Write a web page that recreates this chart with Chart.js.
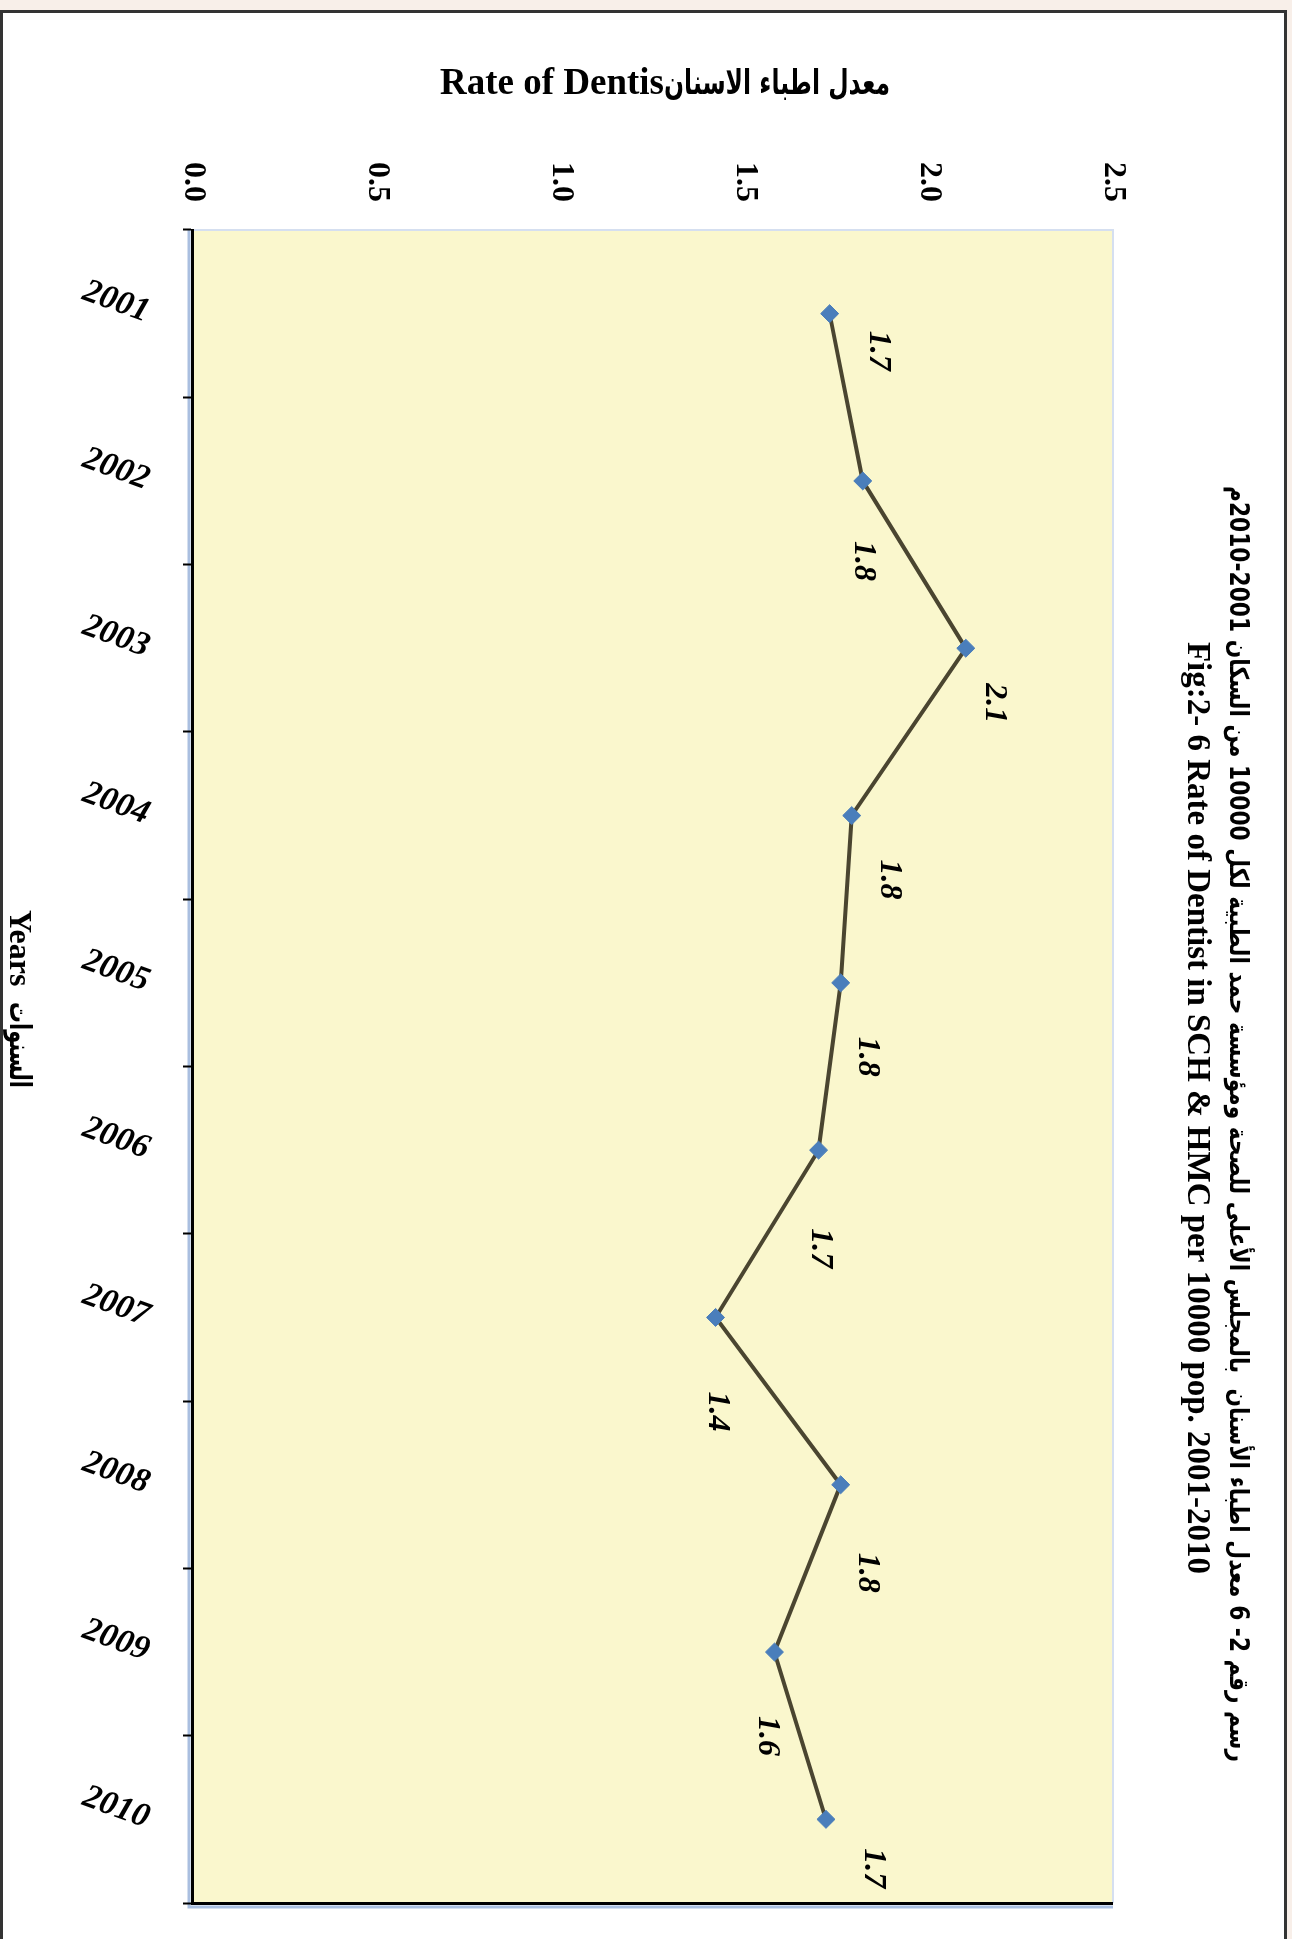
<!DOCTYPE html>
<html lang="en">
<head>
<meta charset="utf-8">
<title>Rate of Dentist in SCH &amp; HMC per 10000 pop. 2001-2010</title>
<script src="https://cdn.jsdelivr.net/npm/chart.js@4.4.1/dist/chart.umd.min.js"></script>
<style>
  html, body { margin: 0; padding: 0; background: #f8efe9; overflow: hidden; }
  #page { position: relative; width: 1292px; height: 1939px; }
  #frame { position: absolute; left: 0; top: 10px; width: 1281px; height: 1940px; background: #fff; border: 3px solid #333; border-bottom: none; }
  /* the chart is drawn upright, then turned a quarter clockwise like the scan */
  #chartBox { position: absolute; left: 0; top: 0; width: 1939px; height: 1292px; transform-origin: 0 0; transform: translate(1292px, 0) rotate(90deg); }
</style>
</head>
<body>
<div id="page">
  <div id="frame"></div>
  <div id="chartBox"><canvas id="dentistChart" width="1939" height="1292"></canvas></div>
</div>
<script>
const years = ["2001", "2002", "2003", "2004", "2005", "2006", "2007", "2008", "2009", "2010"];
const dentistRate = [1.73, 1.82, 2.10, 1.79, 1.76, 1.70, 1.42, 1.76, 1.58, 1.72];
const rateTicks = [0, 0.5, 1.0, 1.5, 2.0, 2.5];

const titleAr = "رسم رقم 2- 6 معدل اطباء الأسنان  بالمجلس الأعلى للصحة ومؤسسة حمد الطبية لكل 10000 من السكان 2001-2010م";
const titleEn = "Fig:2- 6 Rate of Dentist in SCH & HMC per 10000 pop. 2001-2010";
const rateTitleEn = "Rate of Dentis";
const rateTitleAr = "معدل اطباء الاسنان";
const yearsTitleEn = "Years";
const yearsTitleAr = "السنوات";

const SERIF = "'Liberation Serif', 'DejaVu Sans', serif";
const ARABIC = "'DejaVu Sans'";

// Arabic glyphs only come from DejaVu Sans here, which runs wide: squeeze to the scan's length
function fillSqueezed(ctx, text, x, y, width) {
  const w = ctx.measureText(text).width;
  ctx.save();
  ctx.translate(x, y);
  ctx.scale(Math.min(1, width / w), 1);
  ctx.fillText(text, 0, 0);
  ctx.restore();
}

// yellow plot area with its thin blue edge and the soft shadow under the axes
const plotBg = {
  id: "plotBg",
  beforeDraw(chart) {
    const { ctx, chartArea: a } = chart;
    ctx.save();
    ctx.fillStyle = "#faf7cd";
    ctx.fillRect(a.left, a.top, a.right - a.left, a.bottom - a.top);
    ctx.strokeStyle = "#d5dff0";
    ctx.lineWidth = 2;
    ctx.beginPath();
    ctx.moveTo(a.left, a.bottom);
    ctx.lineTo(a.left, a.top);
    ctx.lineTo(a.right, a.top);
    ctx.stroke();
    ctx.strokeStyle = "#aabfe0";
    ctx.lineWidth = 3;
    ctx.beginPath();
    ctx.moveTo(a.left, a.bottom + 4);
    ctx.lineTo(a.right + 4, a.bottom + 4);
    ctx.lineTo(a.right + 4, a.top);
    ctx.stroke();
    ctx.restore();
  },
};

// value written next to each point (placed by hand in the original)
const pointLabels = {
  id: "pointLabels",
  afterDatasetsDraw(chart, args, opts) {
    const ctx = chart.ctx;
    const values = chart.data.datasets[0].data;
    ctx.save();
    ctx.fillStyle = "#000";
    ctx.font = "italic bold 32px " + SERIF;
    ctx.textAlign = "center";
    ctx.textBaseline = "middle";
    chart.getDatasetMeta(0).data.forEach((pt, i) => {
      ctx.fillText(values[i].toFixed(1), pt.x + opts.shiftX[i], pt.y + opts.shiftY[i]);
    });
    ctx.restore();
  },
};

// figure caption and the two bilingual axis titles
const captions = {
  id: "captions",
  afterDraw(chart, args, o) {
    const ctx = chart.ctx;
    ctx.save();
    ctx.fillStyle = "#000";
    ctx.textBaseline = "middle";

    ctx.textAlign = "center";
    ctx.direction = "rtl";
    ctx.font = "bold 26px " + ARABIC;
    fillSqueezed(ctx, titleAr, o.arX, o.arY, o.arWidth);
    ctx.direction = "ltr";
    ctx.font = "bold 33px " + SERIF;
    ctx.fillText(titleEn, o.enX, o.enY);

    // x title: "Years  السنوات"
    ctx.textBaseline = "alphabetic";
    ctx.textAlign = "left";
    ctx.font = "bold 32px " + SERIF;
    ctx.fillText(yearsTitleEn, o.yearsX, o.yearsY);
    ctx.textAlign = "center";
    ctx.font = "bold 30px " + ARABIC;
    fillSqueezed(ctx, yearsTitleAr, o.yearsArX, o.yearsY, o.yearsArWidth);

    // y title, reading bottom to top: "Rate of Dentisمعدل اطباء الاسنان"
    ctx.translate(o.rateX, o.rateY);
    ctx.rotate(-Math.PI / 2);
    ctx.textAlign = "left";
    ctx.font = "bold 37px " + SERIF;
    ctx.fillText(rateTitleEn, 0, 12);
    ctx.textAlign = "center";
    ctx.font = "bold 34px " + ARABIC;
    fillSqueezed(ctx, rateTitleAr, o.rateArOffset, 12, o.rateArWidth);
    ctx.restore();
  },
};

const ctx = document.getElementById("dentistChart").getContext("2d");
const dentistChart = new Chart(ctx, {
  type: "line",
  data: {
    labels: years,
    datasets: [
      {
        label: "Rate of Dentist",
        data: dentistRate,
        borderColor: "#4a4530",
        borderWidth: 4,
        tension: 0,
        pointStyle: "rectRot",
        pointRadius: 9,
        pointHoverRadius: 9,
        pointBackgroundColor: "#4a7ebb",
        pointBorderColor: "#4a7ebb",
        pointBorderWidth: 1,
        clip: false,
      },
    ],
  },
  options: {
    responsive: false,
    animation: false,
    devicePixelRatio: 1,
    layout: { padding: { left: 56, right: 36, top: 179, bottom: 0 } },
    plugins: {
      legend: { display: false },
      tooltip: { enabled: false },
      pointLabels: {
        shiftX: [37, 80, 55, 64, 74, 98, 94, 88, 84, 49],
        shiftY: [-49, -1, -28, -38, -27, -2, -2, -27, 7, -47],
      },
      captions: {
        arX: 1124, arY: 55, arWidth: 1276,
        enX: 1108, enY: 95,
        yearsX: 910, yearsY: 1282, yearsArX: 1045, yearsArWidth: 86,
        rateX: 82, rateY: 852, rateArOffset: 337, rateArWidth: 226,
      },
    },
    scales: {
      x: {
        offset: true,
        grid: {
          offset: true,
          color: (c) => (c.type === "tick" ? "rgba(0,0,0,0)" : "#000"),
          lineWidth: 3,
          tickColor: "#000",
          tickWidth: 2,
          tickLength: 10,
        },
        border: { display: true, color: "#000", width: 3 },
        ticks: {
          color: "#000",
          font: { family: SERIF, size: 34, weight: "bold", style: "italic" },
          minRotation: 70,
          maxRotation: 70,
          padding: 28,
          autoSkip: false,
        },
        afterFit: (scale) => { scale.height = 193; },
      },
      y: {
        min: rateTicks[0],
        max: rateTicks[rateTicks.length - 1],
        grid: { display: false, drawTicks: false },
        border: { display: false },
        ticks: {
          stepSize: rateTicks[1] - rateTicks[0],
          padding: 28,
          color: "#000",
          font: { family: SERIF, size: 32, weight: "bold" },
          callback: (v) => v.toFixed(1),
        },
        afterFit: (scale) => { scale.width = 174; },
      },
    },
  },
  plugins: [plotBg, pointLabels, captions],
});
</script>
</body>
</html>
